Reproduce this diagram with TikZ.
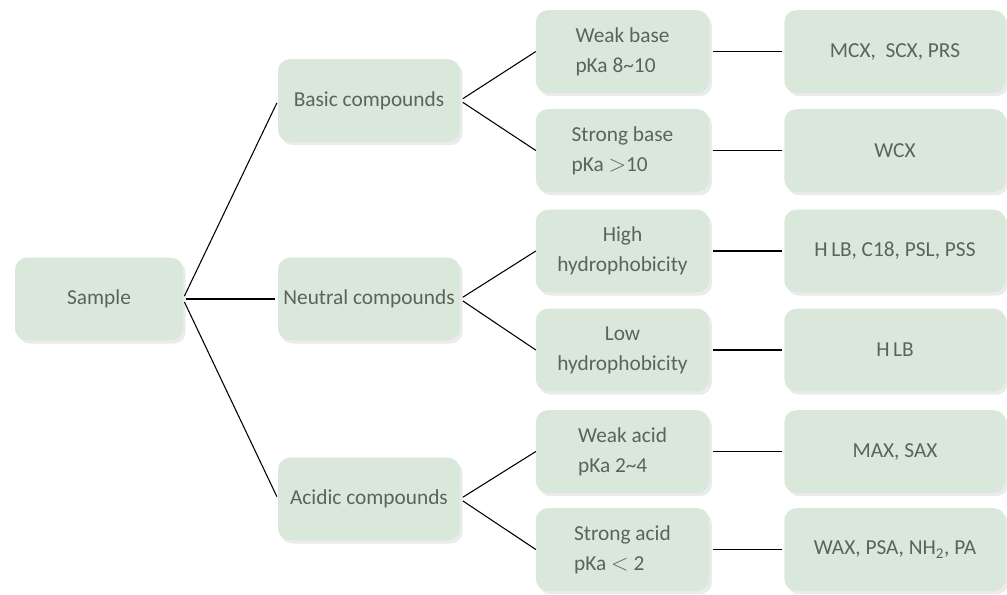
\documentclass[tikz,border=0pt]{standalone}
\usepackage{fontspec}
\setmainfont{Carlito}
\usetikzlibrary{shadows}
\definecolor{boxfill}{RGB}{218,232,220}
\definecolor{boxtext}{RGB}{92,98,94}

\begin{document}
\begin{tikzpicture}[x=0.75pt,y=-0.75pt,
  every node/.style={outer sep=0pt},
  tbox/.style={fill=boxfill, rounded corners=9pt, text=boxtext, minimum height=62pt,
    font=\fontsize{16}{22.5}\selectfont,
    drop shadow={shadow xshift=2pt, shadow yshift=-2.5pt, opacity=0.16}},
  link/.style={line width=0.8pt, shorten <=2.5pt, shorten >=2pt}]

\useasboundingbox (0,0) rectangle (1007,594);

% first level
\node[tbox, minimum width=126pt] (sample) at (99,299) {Sample};

% compound classes
\node[tbox, minimum width=136.5pt] (basic) at (369,100.5) {Basic compounds};
\node[tbox, minimum width=136.5pt] (neutral) at (369,299) {Neutral compounds};
\node[tbox, minimum width=136.5pt] (acidic) at (369,499) {Acidic compounds};

% properties
\node[tbox, minimum width=130pt, align=left] (wbase) at (622.5,51.5) {Weak base\\pKa 8\textasciitilde10};
\node[tbox, minimum width=130pt, align=left] (sbase) at (622.5,150.5) {Strong base\\pKa $>$10};
\node[tbox, minimum width=130pt, align=center] (hhyd) at (622.5,251) {High\\hydrophobicity};
\node[tbox, minimum width=130pt, align=center] (lhyd) at (622.5,350) {Low\\hydrophobicity};
\node[tbox, minimum width=130pt, align=left] (wacid) at (622.5,451.5) {Weak acid\\pKa 2\textasciitilde4};
\node[tbox, minimum width=130pt, align=left] (sacid) at (622.5,549.5) {Strong acid\\pKa $<$ 2};

% sorbents
\node[tbox, minimum width=166pt] (mcx) at (895,51.5) {MCX,\ \ SCX, PRS};
\node[tbox, minimum width=166pt] (wcx) at (895,150.5) {WCX};
\node[tbox, minimum width=166pt] (hlbc) at (895,251) {H\,LB, C18, PSL, PSS};
\node[tbox, minimum width=166pt] (hlb) at (895,350) {H\,LB};
\node[tbox, minimum width=166pt] (max) at (895,451.5) {MAX, SAX};
\node[tbox, minimum width=166pt] (wax) at (895,549.5) {WAX, PSA, NH\textsubscript{2}, PA};

\draw[link] (sample.east) -- (basic.west);
\draw[link] (sample.east) -- (neutral.west);
\draw[link] (sample.east) -- (acidic.west);

\draw[link, shorten >=0pt] (basic.east) -- (wbase.west);
\draw[link, shorten >=0pt] (basic.east) -- (sbase.west);
\draw[link, shorten >=0pt] (neutral.east) -- (hhyd.west);
\draw[link, shorten >=0pt] (neutral.east) -- (lhyd.west);
\draw[link, shorten >=0pt] (acidic.east) -- (wacid.west);
\draw[link, shorten >=0pt] (acidic.east) -- (sacid.west);

\draw[link] (wbase.east) -- (mcx.west);
\draw[link] (sbase.east) -- (wcx.west);
\draw[link] (hhyd.east) -- (hlbc.west);
\draw[link] (lhyd.east) -- (hlb.west);
\draw[link] (wacid.east) -- (max.west);
\draw[link] (sacid.east) -- (wax.west);
\end{tikzpicture}
\end{document}
